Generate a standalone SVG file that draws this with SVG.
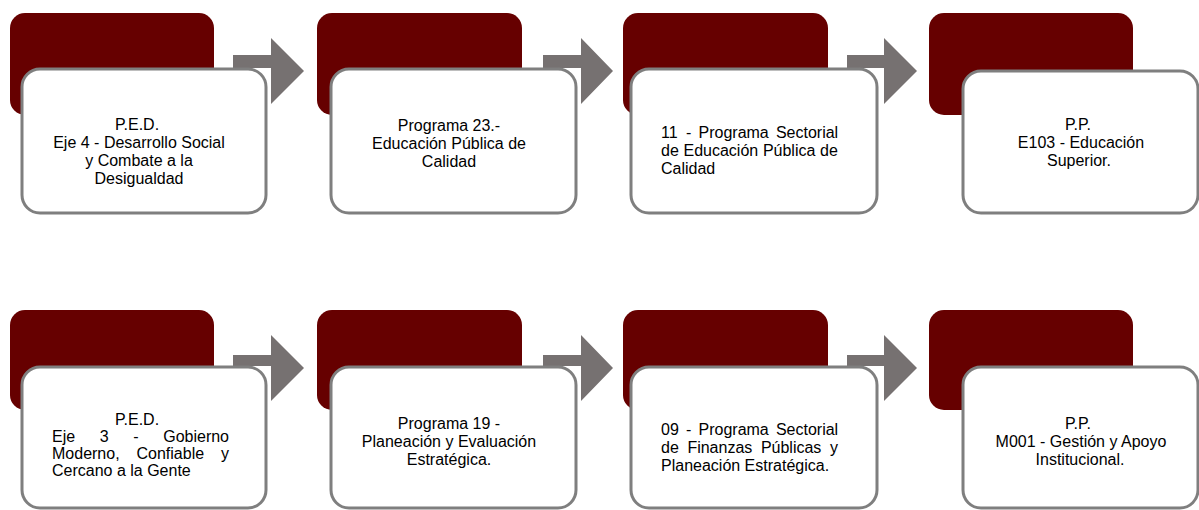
<svg xmlns="http://www.w3.org/2000/svg" width="1199" height="510" viewBox="0 0 1199 510">
<style>
.dk{fill:#660000;}
.wb{fill:#ffffff;stroke:#7f7f7f;stroke-width:3;}
.ar{fill:#767171;}
text{font-family:"Liberation Sans",Arial,sans-serif;font-size:16px;fill:#000000;}
.c{text-anchor:middle;}
</style>
<rect width="1199" height="510" fill="#ffffff"/>
<g id="backs">
<rect class="dk" x="10" y="13" width="204" height="102" rx="15"/>
<rect class="dk" x="317" y="13" width="205" height="102" rx="15"/>
<rect class="dk" x="623" y="13" width="205" height="102" rx="15"/>
<rect class="dk" x="929" y="13" width="204" height="102" rx="15"/>
<rect class="dk" x="10" y="310" width="204" height="100" rx="15"/>
<rect class="dk" x="317" y="310" width="205" height="100" rx="15"/>
<rect class="dk" x="623" y="310" width="205" height="100" rx="15"/>
<rect class="dk" x="929" y="310" width="204" height="100" rx="15"/>
</g>
<g id="connectors">
<polygon class="ar" points="233,55 271,55 271,38 304,71 271,104 271,68 233,68"/>
<polygon class="ar" points="543,55 581,55 581,38 613,71 581,104 581,68 543,68"/>
<polygon class="ar" points="847,55 884,55 884,38 917,71 884,104 884,68 847,68"/>
<polygon class="ar" points="233,355 271,355 271,335 304,368 271,401 271,366 233,366"/>
<polygon class="ar" points="543,355 581,355 581,335 613,368 581,401 581,366 543,366"/>
<polygon class="ar" points="847,355 884,355 884,335 917,368 884,401 884,366 847,366"/>
</g>
<g id="n1">
<rect class="wb" x="22" y="69" width="244" height="144" rx="18"/>
<text class="c" x="137" y="130">P.E.D.</text>
<text class="c" x="139" y="148">Eje 4 - Desarrollo Social</text>
<text class="c" x="139" y="166">y Combate a la</text>
<text class="c" x="139" y="184">Desigualdad</text>
</g>
<g id="n2">
<rect class="wb" x="331" y="69" width="245" height="144" rx="18"/>
<text class="c" x="449" y="131">Programa 23.-</text>
<text class="c" x="449" y="149">Educación Pública de</text>
<text class="c" x="449" y="167">Calidad</text>
</g>
<g id="n3">
<rect class="wb" x="631" y="69" width="246" height="144" rx="18"/>
<text y="138"><tspan x="661">11</tspan><tspan x="686">-</tspan><tspan x="698.5">Programa</tspan><tspan x="775.9">Sectorial</tspan></text>
<text y="156"><tspan x="661">de</tspan><tspan x="683.5">Educación</tspan><tspan x="762.9">Pública</tspan><tspan x="820.1">de</tspan></text>
<text x="661" y="174">Calidad</text>
</g>
<g id="n4">
<rect class="wb" x="963" y="71" width="235" height="142" rx="18"/>
<text class="c" x="1078" y="130">P.P.</text>
<text class="c" x="1081" y="148">E103 - Educación</text>
<text class="c" x="1079" y="166">Superior.</text>
</g>
<g id="n5">
<rect class="wb" x="22" y="367" width="244" height="141" rx="18"/>
<text class="c" x="137" y="425">P.E.D.</text>
<text y="442"><tspan x="52">Eje</tspan><tspan x="99.7">3</tspan><tspan x="133.2">-</tspan><tspan x="163.2">Gobierno</tspan></text>
<text y="459"><tspan x="52">Moderno,</tspan><tspan x="136.5">Confiable</tspan><tspan x="221">y</tspan></text>
<text x="52" y="476">Cercano a la Gente</text>
</g>
<g id="n6">
<rect class="wb" x="331" y="367" width="245" height="141" rx="18"/>
<text class="c" x="449" y="429">Programa 19 -</text>
<text class="c" x="449" y="447">Planeación y Evaluación</text>
<text class="c" x="449" y="465">Estratégica.</text>
</g>
<g id="n7">
<rect class="wb" x="631" y="367" width="246" height="141" rx="18"/>
<text y="435"><tspan x="661">09</tspan><tspan x="686">-</tspan><tspan x="698.5">Programa</tspan><tspan x="775.9">Sectorial</tspan></text>
<text y="453"><tspan x="661">de</tspan><tspan x="687.4">Finanzas</tspan><tspan x="760.9">Públicas</tspan><tspan x="830">y</tspan></text>
<text x="661" y="471">Planeación Estratégica.</text>
</g>
<g id="n8">
<rect class="wb" x="963" y="367" width="235" height="141" rx="18"/>
<text class="c" x="1078" y="429">P.P.</text>
<text class="c" x="1081" y="447">M001 - Gestión y Apoyo</text>
<text class="c" x="1080" y="465">Institucional.</text>
</g>
</svg>
